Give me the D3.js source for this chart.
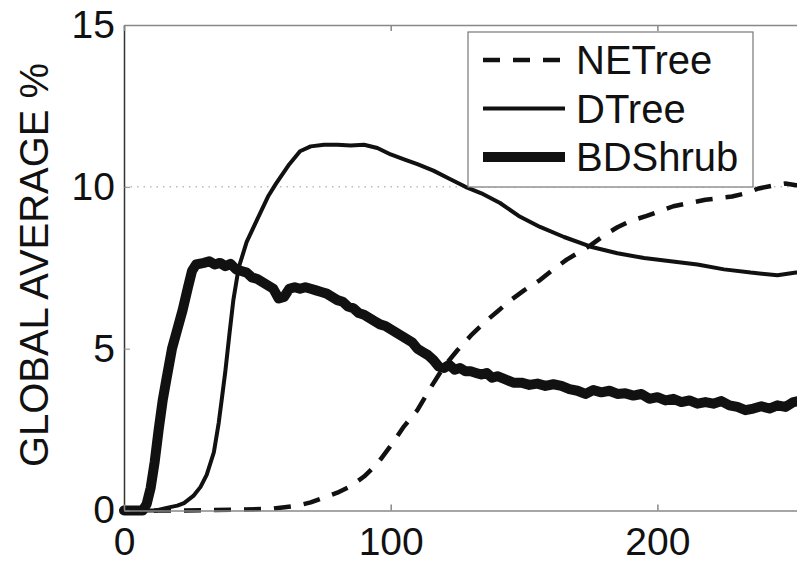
<!DOCTYPE html>
<html>
<head>
<meta charset="utf-8">
<script src="https://cdn.jsdelivr.net/npm/d3@7"></script>
<style>
  body { margin: 0; background: #fff; }
  text { font-family: "Liberation Sans", Arial, sans-serif; fill: #111; }
</style>
</head>
<body>
<div id="chart-container"></div>
<script>
// x = time step, values = global average %
const netreeX = [0, 20, 40, 55, 65, 70, 75, 80, 85, 90, 95, 100, 105, 110, 115, 120, 125, 130, 135, 140, 145, 150, 156, 161, 166, 170, 175, 180, 185, 190, 196, 201, 206, 212, 218, 223, 228, 233, 238, 244, 248, 252, 260];
const netreeY = [0, 0, 0.02, 0.05, 0.15, 0.25, 0.4, 0.55, 0.75, 1.05, 1.45, 2.0, 2.6, 3.1, 3.8, 4.45, 4.95, 5.4, 5.8, 6.15, 6.5, 6.8, 7.12, 7.45, 7.75, 7.95, 8.2, 8.5, 8.75, 8.95, 9.1, 9.25, 9.4, 9.5, 9.6, 9.65, 9.7, 9.8, 9.95, 10.05, 10.1, 10.05, 10.0];

const dtreeX = [0, 12, 16, 20, 22.5, 26, 28.7, 31, 33.7, 35.5, 36.6, 38, 39.6, 41, 43, 46, 50, 54, 57, 62, 66, 70, 75, 80, 85, 90, 95, 100, 105, 110, 116, 122, 128, 134, 141, 148, 156, 165, 175, 185, 195, 205, 215, 225, 235, 245, 252, 260];
const dtreeY = [0, 0, 0.08, 0.15, 0.23, 0.45, 0.73, 1.1, 1.8, 2.7, 3.4, 4.3, 5.5, 6.5, 7.5, 8.3, 9.0, 9.7, 10.1, 10.7, 11.1, 11.25, 11.3, 11.3, 11.28, 11.3, 11.2, 11.0, 10.85, 10.7, 10.5, 10.25, 10.0, 9.8, 9.5, 9.1, 8.76, 8.45, 8.15, 7.95, 7.8, 7.7, 7.6, 7.45, 7.35, 7.27, 7.35, 7.4];

const bdshrubX = [0, 7, 8.5, 10, 11.5, 13, 14.5, 16, 18, 20, 22, 24, 25.5, 27, 30, 32, 34, 36, 38, 40, 42, 44, 46, 48, 50, 52, 54, 56, 58, 60, 62, 64, 66, 68, 70, 72, 74, 76, 78, 80, 82, 84, 86, 88, 90, 92, 94, 96, 98, 100, 102, 104, 106, 108, 110, 112, 114, 116, 118, 120, 122, 124, 126, 128, 130, 132, 134, 136, 138, 140, 143, 146, 149, 152, 155, 158, 161, 164, 167, 170, 173, 176, 179, 182, 185, 188, 191, 194, 197, 200, 203, 206, 209, 212, 215, 218, 221, 224, 227, 230, 233, 236, 239, 242, 245, 248, 251, 254, 258];
const bdshrubY = [0, 0, 0.2, 0.7, 1.5, 2.5, 3.4, 4.1, 5.0, 5.6, 6.2, 6.9, 7.4, 7.6, 7.65, 7.7, 7.6, 7.65, 7.55, 7.62, 7.45, 7.4, 7.35, 7.2, 7.15, 7.05, 6.95, 6.85, 6.55, 6.6, 6.85, 6.9, 6.85, 6.9, 6.85, 6.8, 6.75, 6.7, 6.6, 6.5, 6.45, 6.3, 6.25, 6.1, 6.05, 5.95, 5.85, 5.75, 5.7, 5.6, 5.5, 5.4, 5.3, 5.2, 5.0, 4.9, 4.8, 4.65, 4.45, 4.4, 4.5, 4.35, 4.4, 4.3, 4.3, 4.25, 4.2, 4.25, 4.1, 4.15, 4.05, 3.95, 3.95, 3.88, 3.92, 3.85, 3.9, 3.85, 3.75, 3.7, 3.6, 3.72, 3.65, 3.7, 3.6, 3.62, 3.55, 3.6, 3.45, 3.5, 3.4, 3.45, 3.35, 3.4, 3.3, 3.35, 3.3, 3.38, 3.25, 3.2, 3.1, 3.15, 3.22, 3.15, 3.25, 3.2, 3.35, 3.4, 3.45];

const seriesNames = ["NETree", "DTree", "BDShrub"];
const yTicks = [0, 5, 10, 15];
const xTicks = [0, 100, 200];

const svgWidth = 797;
const svgHeight = 562;
const margin = { top: 25, left: 124, bottom: 51.5 };

const svg = d3.select("#chart-container")
    .append("svg")
    .attr("width", svgWidth)
    .attr("height", svgHeight);

// plot runs past the right edge of the picture
const xScale = d3.scaleLinear()
    .domain([0, 260])
    .range([margin.left, margin.left + 2.667 * 260]);

const yScale = d3.scaleLinear()
    .domain([0, 15])
    .range([svgHeight - margin.bottom, margin.top]);

// dotted reference line at 10
svg.append("line")
    .attr("x1", xScale(0))
    .attr("x2", xScale(260))
    .attr("y1", yScale(10))
    .attr("y2", yScale(10))
    .attr("stroke", "#999")
    .attr("stroke-width", 1)
    .attr("stroke-dasharray", "1.5,5");

const lineGen = d3.line()
    .x(d => xScale(d[0]))
    .y(d => yScale(d[1]));

const datasets = [
    { name: seriesNames[0], x: netreeX, y: netreeY, width: 4.5, dash: "17,13" },
    { name: seriesNames[1], x: dtreeX, y: dtreeY, width: 4, dash: null },
    { name: seriesNames[2], x: bdshrubX, y: bdshrubY, width: 10, dash: null }
];

datasets.forEach(ds => {
    svg.append("path")
        .datum(ds.x.map((v, i) => [v, ds.y[i]]))
        .attr("fill", "none")
        .attr("stroke", "#111")
        .attr("stroke-width", ds.width)
        .attr("stroke-linejoin", "round")
        .attr("stroke-linecap", ds.dash ? "butt" : "round")
        .attr("stroke-dasharray", ds.dash)
        .attr("d", lineGen);
});

// axes
const yAxis = svg.append("g")
    .attr("transform", `translate(${margin.left}, 0)`)
    .call(d3.axisLeft(yScale).tickValues(yTicks).tickSizeInner(-6).tickSizeOuter(0).tickPadding(9));

const xAxis = svg.append("g")
    .attr("transform", `translate(0, ${svgHeight - margin.bottom})`)
    .call(d3.axisBottom(xScale).tickValues(xTicks).tickSizeInner(-6).tickSizeOuter(0).tickPadding(17));

const xAxisTop = svg.append("g")
    .attr("transform", `translate(0, ${margin.top})`)
    .call(d3.axisTop(xScale).tickValues(xTicks).tickSizeInner(-6).tickSizeOuter(0).tickFormat(d => ""));

[xAxis, xAxisTop].forEach(a => a.selectAll("path, line").attr("stroke", "#888").attr("stroke-width", 1.5));
yAxis.selectAll("path").attr("stroke", "#333").attr("stroke-width", 1.5);
yAxis.selectAll("line").attr("stroke", "#888");

svg.selectAll(".tick text")
    .attr("font-family", "Liberation Sans, Arial, sans-serif")
    .attr("font-size", 39)
    .attr("fill", "#111");

svg.append("text")
    .attr("transform", `translate(48, 265) rotate(-90)`)
    .attr("text-anchor", "middle")
    .attr("font-size", 40)
    .attr("textLength", 404)
    .attr("lengthAdjust", "spacingAndGlyphs")
    .text("GLOBAL AVERAGE %");

// legend
function drawLegend(svg) {
    const boxX = 468, boxY = 32, boxW = 285, boxH = 155;
    svg.append("rect")
        .attr("x", boxX)
        .attr("y", boxY)
        .attr("width", boxW)
        .attr("height", boxH)
        .attr("fill", "white")
        .attr("stroke", "#777")
        .attr("stroke-width", 1.2);

    datasets.forEach((ds, i) => {
        const yPos = 60 + i * 48.5;
        svg.append("line")
            .attr("x1", 483)
            .attr("x2", 565)
            .attr("y1", yPos)
            .attr("y2", yPos)
            .attr("stroke", "#111")
            .attr("stroke-width", ds.width)
            .attr("stroke-dasharray", ds.dash);

        svg.append("text")
            .attr("x", 576)
            .attr("y", yPos + 14)
            .attr("font-size", 40)
            .text(ds.name);
    });
}

drawLegend(svg);
</script>
</body>
</html>
